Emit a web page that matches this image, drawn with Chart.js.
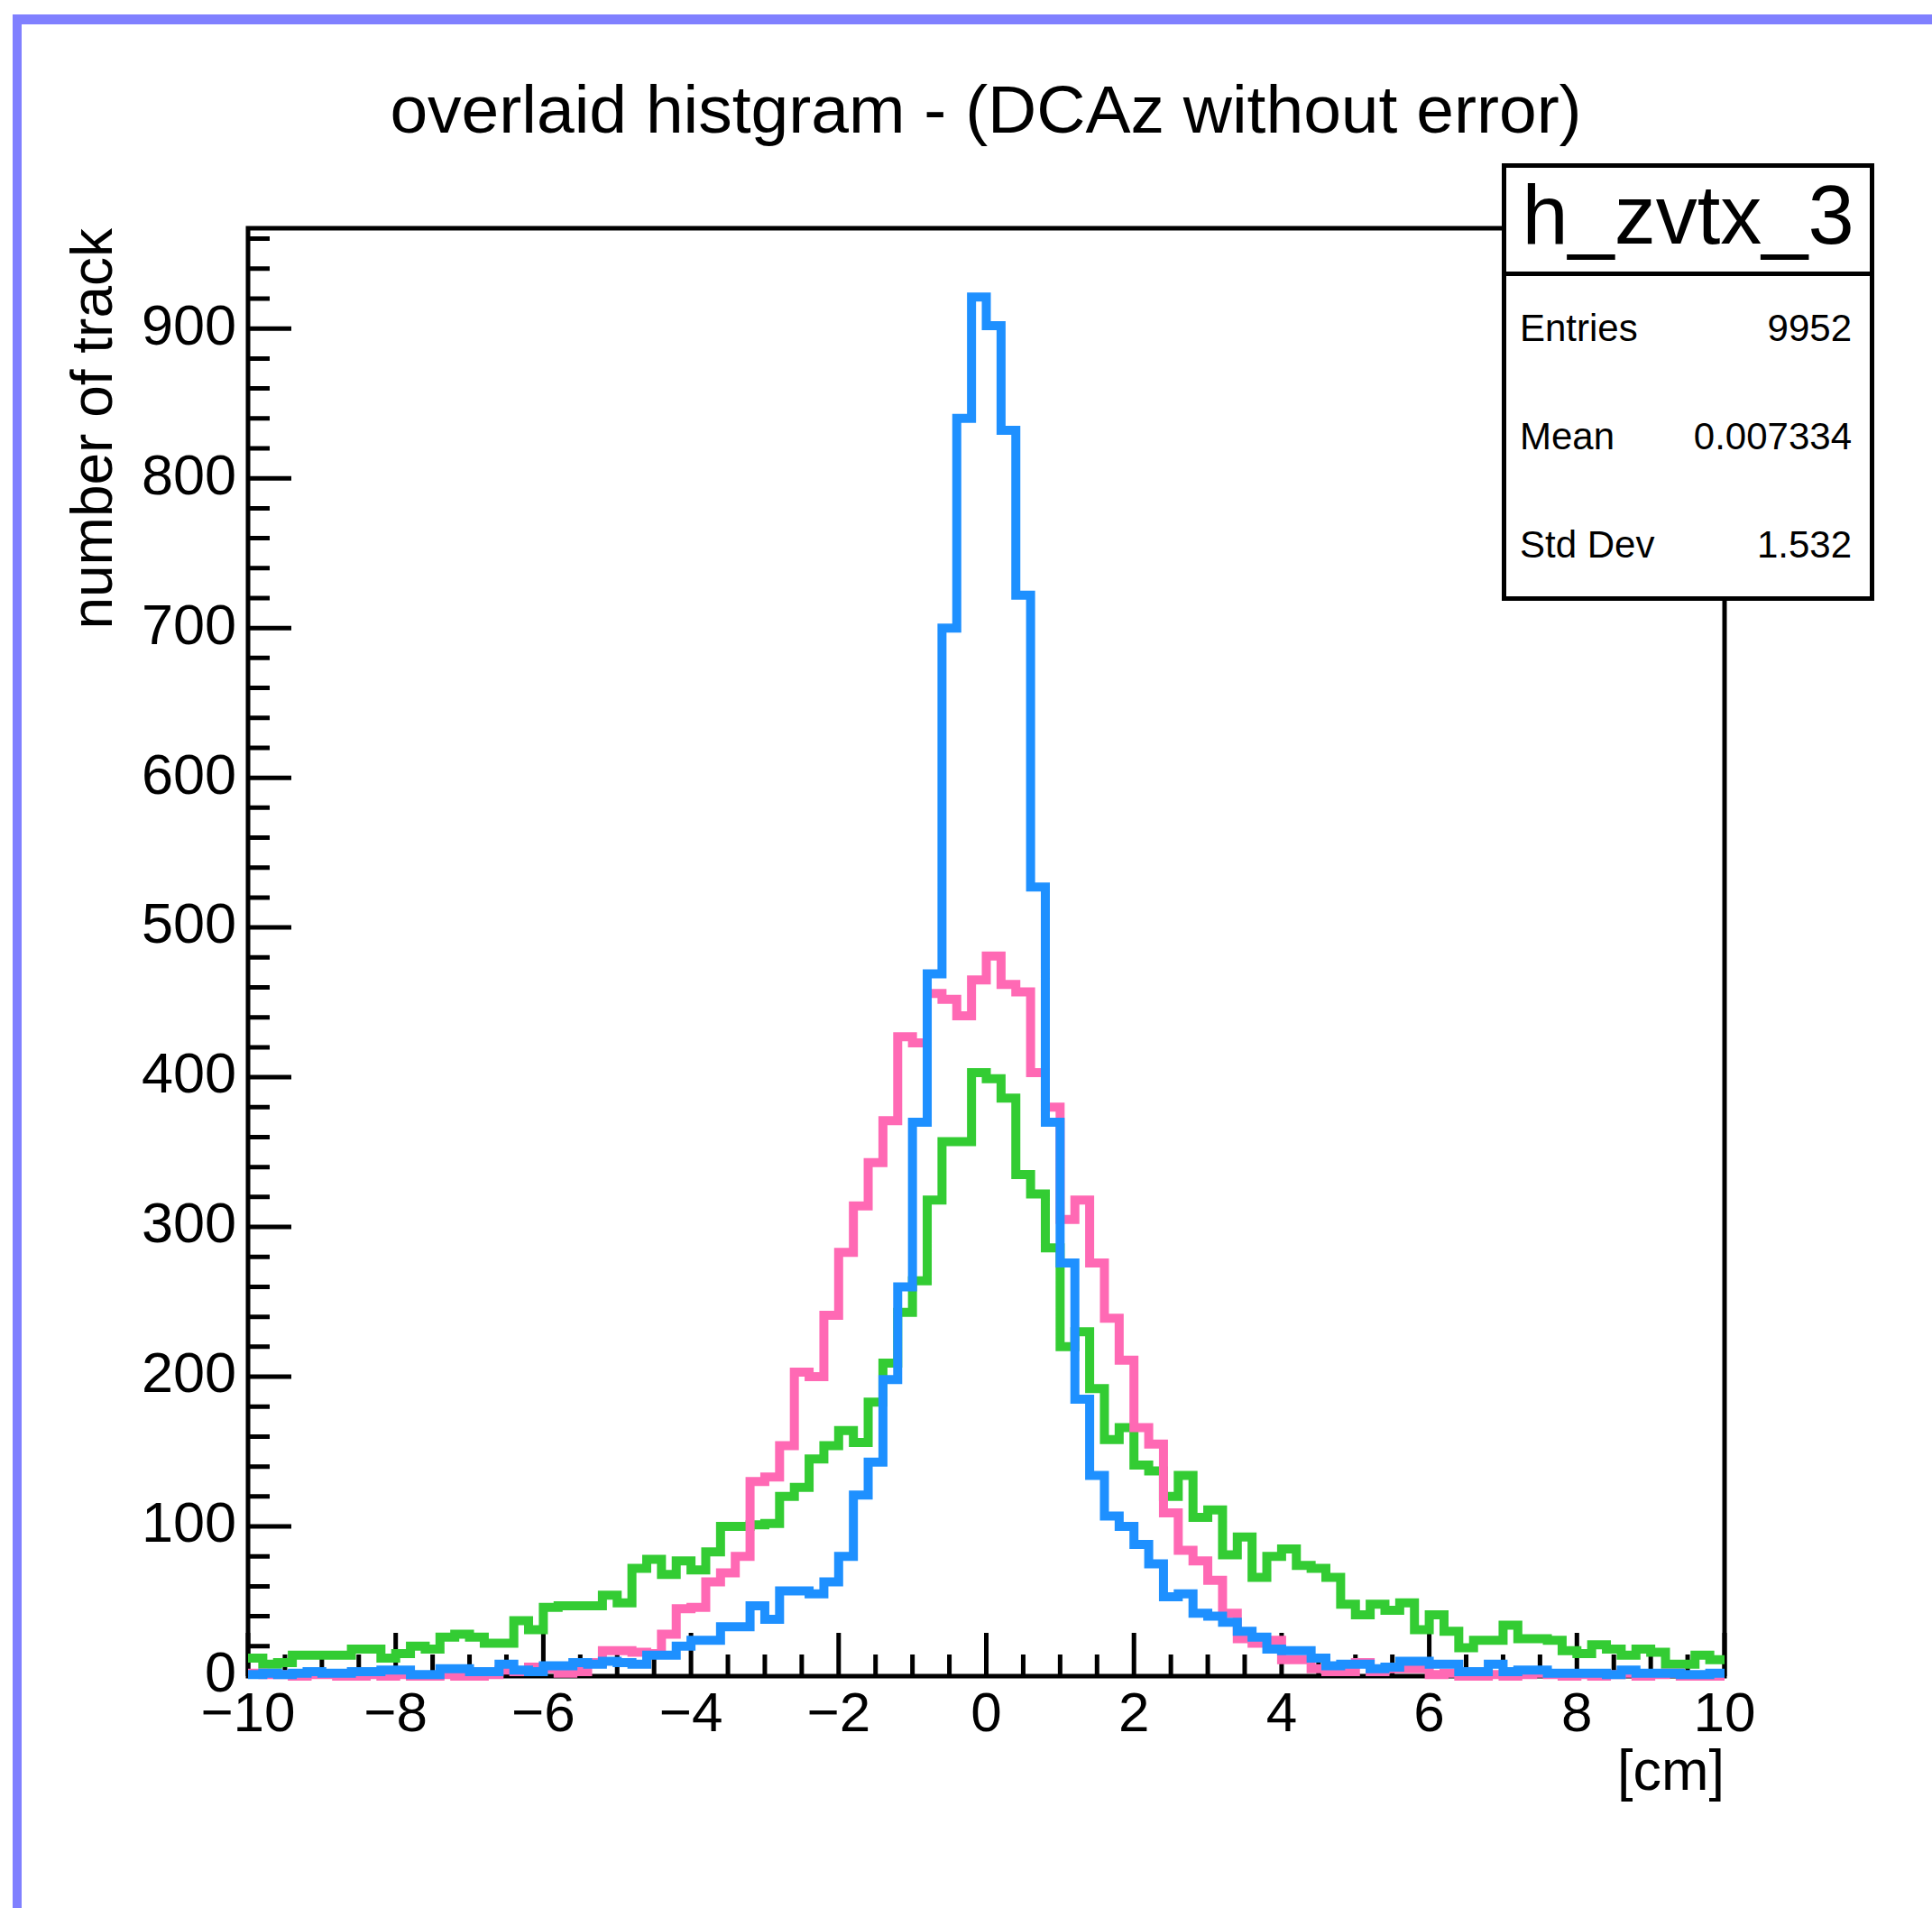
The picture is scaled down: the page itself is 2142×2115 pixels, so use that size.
<!DOCTYPE html>
<html><head><meta charset="utf-8">
<script src="https://cdn.jsdelivr.net/npm/chart.js@4.4.1/dist/chart.umd.min.js"></script>
<style>
html,body{margin:0;padding:0;background:#fff;}
body{width:2142px;height:2115px;position:relative;overflow:hidden;font-family:'Liberation Sans',Arial,Helvetica,sans-serif;color:#000;}
#wrap{position:absolute;left:0;top:0;width:2142px;height:2115px;}
.abs{position:absolute;white-space:nowrap;line-height:1;}
</style></head><body>
<div id="wrap"><canvas id="c" width="2142" height="2115"></canvas></div>
<div class="abs" style="left:14px;top:16px;width:2128px;height:11px;background:rgb(128,128,255)"></div>
<div class="abs" style="left:14px;top:16px;width:10px;height:2099px;background:rgb(128,128,255)"></div>
<div class="abs" style="left:1093px;top:84px;font-size:75px;transform:translateX(-50%)">overlaid histgram - (DCAz without error)</div>
<div style="position:absolute;left:102px;top:253px;width:0;height:0;transform:rotate(-90deg);transform-origin:0 0;"><span class="abs" style="right:0;top:-32px;font-size:64px;">number of track</span></div>
<div class="abs" style="right:230px;top:1931px;font-size:63px;">[cm]</div>
<div class="abs" style="left:1665px;top:180.5px;width:413px;height:485.5px;box-sizing:border-box;border:5px solid #000;background:#fff;"></div>
<div class="abs" style="left:1665px;top:300.8px;width:413px;height:5px;background:#000"></div>
<div class="abs" style="left:1871.5px;top:192px;font-size:92px;transform:translateX(-50%)">h_zvtx_3</div>
<div class="abs" style="left:1685px;top:343px;font-size:42px;">Entries</div>
<div class="abs" style="right:89px;top:343px;font-size:42px;">9952</div>
<div class="abs" style="left:1685px;top:463px;font-size:42px;">Mean</div>
<div class="abs" style="right:89px;top:463px;font-size:42px;">0.007334</div>
<div class="abs" style="left:1685px;top:583px;font-size:42px;">Std Dev</div>
<div class="abs" style="right:89px;top:583px;font-size:42px;">1.532</div>
<script>
// ---- data ----
const BIN_LO = -10;
const BIN_HI = 10;
const greenCounts = [12,8,9,14,14,14,14,18,18,12, 15,20,18,26,28,26,22,22,37,31,
  46,47,47,47,54,49,72,78,68,77, 71,83,100,100,101,102,120,126,145,154,
  164,156,183,209,243,264,318,357,357,403, 399,386,335,322,286,220,230,192,158,166,
  141,137,120,134,106,111,81,93,66,80, 85,74,72,66,48,41,48,44,49,31,
  41,30,19,24,24,34,25,25,24,17, 15,21,18,14,18,16,8,8,14,11];
const pinkCounts = [2,1,1,0,1,1,0,0,1,0, 1,0,0,1,0,0,1,4,3,6,
  5,2,3,9,17,17,16,15,28,45, 46,63,69,80,130,133,154,203,200,241,
  283,314,343,371,427,423,456,452,441,465, 481,462,457,403,380,305,318,276,239,211,
  166,155,109,84,77,64,42,25,22,24, 11,11,5,3,3,9,3,5,5,5,
  1,2,0,0,1,0,1,2,1,0, 1,0,1,2,0,1,2,0,0,0];
const blueCounts = [1,2,1,2,3,2,2,3,3,4, 4,1,1,5,5,3,3,8,4,3,
  7,7,9,8,10,9,8,14,14,20, 24,24,33,33,47,38,57,57,55,63,
  80,121,143,198,260,370,469,700,840,921, 902,832,722,527,370,276,185,134,107,100,
  88,75,53,55,42,40,36,30,26,18, 17,17,12,7,8,8,5,6,10,10,
  8,8,3,3,8,3,4,4,2,2, 2,2,1,4,2,2,2,1,1,2];
const Y_MAX = 967;
const xTickStep = 2, xMinorStep = 0.5;
const yTickStep = 100, yMinorStep = 20;

function stepPoints(vals){
  const w = (BIN_HI - BIN_LO) / vals.length;
  const pts = vals.map((v, i) => ({x: BIN_LO + i * w, y: v}));
  pts.push({x: BIN_HI, y: vals[vals.length - 1]});
  return pts;
}

const FONT = "'Liberation Sans', Arial, Helvetica, sans-serif";

const frameTicks = {
  id: 'frameTicks',
  beforeDatasetsDraw(chart){
    const {ctx, chartArea: a, scales: {x, y}} = chart;
    ctx.save();
    ctx.strokeStyle = '#000';
    ctx.lineWidth = 5;
    ctx.lineCap = 'butt';
    ctx.beginPath();
    const nX = Math.round((BIN_HI - BIN_LO) / xMinorStep);
    for (let k = 0; k <= nX; k++){
      const v = BIN_LO + k * xMinorStep;
      const major = Math.abs(v / xTickStep - Math.round(v / xTickStep)) < 1e-6;
      const px = x.getPixelForValue(v);
      ctx.moveTo(px, a.bottom);
      ctx.lineTo(px, a.bottom - (major ? 48 : 24));
    }
    for (let v = 0; v <= Y_MAX; v += yMinorStep){
      const major = v % yTickStep === 0;
      const py = y.getPixelForValue(v);
      ctx.moveTo(a.left, py);
      ctx.lineTo(a.left + (major ? 48 : 24), py);
    }
    ctx.stroke();
    ctx.strokeRect(a.left, a.top, a.right - a.left, a.bottom - a.top);
    ctx.restore();
  }
};

function ds(vals, color){
  return {data: stepPoints(vals), borderColor: color, borderWidth: 10, stepped: 'before',
    pointRadius: 0, fill: false, borderJoinStyle: 'miter', borderCapStyle: 'butt', clip: 8};
}

new Chart(document.getElementById('c'), {
  type: 'line',
  data: {datasets: [ds(blueCounts, '#1e90ff'), ds(pinkCounts, '#ff69b4'), ds(greenCounts, '#33cc33')]},
  options: {
    responsive: false, animation: false, devicePixelRatio: 1, events: [],
    plugins: {legend: {display: false}, tooltip: {enabled: false}, title: {display: false}},
    layout: {padding: {left: 0, top: 253, right: 230, bottom: 0}},
    scales: {
      x: {type: 'linear', min: BIN_LO, max: BIN_HI,
        grid: {display: false, drawTicks: false}, border: {display: false},
        ticks: {stepSize: xTickStep, autoSkip: false, maxRotation: 0, color: '#000', padding: 7,
          font: {family: FONT, size: 62},
          callback: v => (v < 0 ? '\u2212' + Math.abs(v) : String(v))},
        afterFit(s){ s.height = 257; }
      },
      y: {type: 'linear', min: 0, max: Y_MAX,
        grid: {display: false, drawTicks: false}, border: {display: false},
        ticks: {stepSize: yTickStep, includeBounds: false, color: '#000', padding: 13,
          font: {family: FONT, size: 63}},
        afterFit(s){ s.width = 275; }
      }
    }
  },
  plugins: [frameTicks]
});
</script>
</body></html>
